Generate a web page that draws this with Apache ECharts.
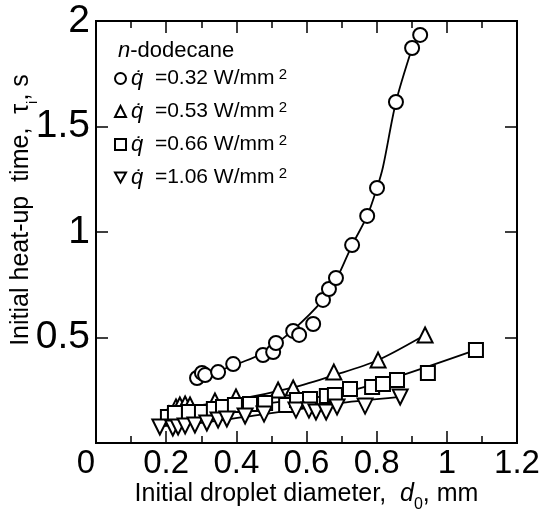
<!DOCTYPE html>
<html>
<head>
<meta charset="utf-8">
<script src="https://cdn.jsdelivr.net/npm/echarts@6/dist/echarts.min.js"></script>
<style>
  html, body { margin: 0; padding: 0; background: #fff; }
  #chart { width: 542px; height: 519px; }
</style>
</head>
<body>
<div id="chart"></div>
<script>
// heat flux cases (W/mm2)
const fluxNames = ['0.32', '0.53', '0.66', '1.06'];

// q = 0.32, circles
const d032 = [0.288, 0.302, 0.311, 0.348, 0.391, 0.476, 0.505, 0.513, 0.562, 0.579, 0.619, 0.647, 0.664, 0.684, 0.730, 0.773, 0.801, 0.855, 0.901, 0.924];
const t032 = [0.308, 0.332, 0.322, 0.336, 0.374, 0.417, 0.431, 0.474, 0.531, 0.512, 0.564, 0.678, 0.730, 0.782, 0.938, 1.076, 1.209, 1.616, 1.872, 1.934];
// q = 0.53, triangles
const d053 = [0.208, 0.228, 0.239, 0.254, 0.268, 0.339, 0.399, 0.519, 0.562, 0.678, 0.804, 0.938];
const t053 = [0.137, 0.171, 0.180, 0.185, 0.180, 0.199, 0.218, 0.251, 0.261, 0.336, 0.393, 0.512];
// q = 0.66, squares
const d066 = [0.205, 0.225, 0.265, 0.302, 0.336, 0.362, 0.396, 0.439, 0.482, 0.542, 0.573, 0.610, 0.658, 0.681, 0.724, 0.787, 0.818, 0.858, 0.946, 1.083];
const t066 = [0.123, 0.142, 0.147, 0.147, 0.161, 0.171, 0.180, 0.185, 0.190, 0.180, 0.204, 0.209, 0.223, 0.227, 0.256, 0.265, 0.280, 0.299, 0.332, 0.441];
// q = 1.06, inverted triangles
const d106 = [0.182, 0.219, 0.234, 0.254, 0.282, 0.316, 0.348, 0.373, 0.425, 0.479, 0.570, 0.607, 0.627, 0.656, 0.687, 0.767, 0.867];
const t106 = [0.076, 0.071, 0.076, 0.081, 0.085, 0.095, 0.109, 0.114, 0.128, 0.137, 0.156, 0.156, 0.147, 0.147, 0.171, 0.175, 0.218];

// fitted curves
const fit032d = [0.288, 0.348, 0.410, 0.476, 0.562, 0.647, 0.687, 0.730, 0.773, 0.801, 0.818, 0.855, 0.901];
const fit032t = [0.308, 0.341, 0.379, 0.427, 0.536, 0.678, 0.782, 0.938, 1.076, 1.209, 1.308, 1.616, 1.872];
const fit053d = [0.22, 0.40, 0.56, 0.68, 0.80, 0.925];
const fit053t = [0.16, 0.205, 0.262, 0.322, 0.39, 0.50];
const fit066d = [0.20, 0.40, 0.60, 0.72, 0.866, 1.075];
const fit066t = [0.13, 0.172, 0.21, 0.245, 0.318, 0.437];
const fit106d = [0.18, 0.30, 0.45, 0.60, 0.70, 0.86];
const fit106t = [0.078, 0.095, 0.13, 0.165, 0.19, 0.217];

const xTicks = [0, 0.2, 0.4, 0.6, 0.8, 1, 1.2];

const font = '"Liberation Sans", Arial, sans-serif';
const zip = (a, b) => a.map((v, i) => [v, b[i]]);

let chart = echarts.init(document.getElementById('chart'));

const markStyle = { color: '#fff', borderColor: '#000', borderWidth: 2, opacity: 1 };
const fitStyle = { color: '#000', width: 1.8 };
const invTri = 'path://M0,0 L10,0 L5,9 Z';
const frameLine = { show: true, onZero: false, lineStyle: { color: '#000', width: 2 } };
const majorTick = { show: true, inside: true, length: 12, lineStyle: { color: '#000', width: 1.5 } };
const minorTick = { show: true, splitNumber: 2, length: 7, lineStyle: { color: '#000', width: 1.5 } };

function scatter(name, d, t, symbol, size, rotate) {
    return {
        name: name,
        type: 'scatter',
        data: zip(d, t),
        symbol: symbol,
        symbolSize: size,
        symbolRotate: rotate || 0,
        itemStyle: markStyle,
        z: 5
    };
}
function fit(d, t, axisIdx) {
    return {
        type: 'line',
        data: zip(d, t),
        xAxisIndex: axisIdx || 0,
        yAxisIndex: axisIdx || 0,
        smooth: 0.3,
        showSymbol: false,
        symbol: 'none',
        lineStyle: fitStyle,
        silent: true,
        z: 2
    };
}

let option = {
    animation: false,
    backgroundColor: '#fff',
    grid: {
        left: 96, right: 25, top: 21, bottom: 76,
        containLabel: false, outerBoundsMode: 'none',
        show: true, borderColor: '#000', borderWidth: 2, backgroundColor: 'transparent'
    },
    title: {
        text: '{i|n}-dodecane',
        left: 113,
        top: 35,
        textStyle: {
            fontFamily: font, fontSize: 22, fontWeight: 'normal', color: '#000',
            rich: { i: { fontFamily: font, fontSize: 22, fontStyle: 'italic', color: '#000' } }
        }
    },
    legend: {
        orient: 'vertical',
        left: 109,
        top: 62,
        itemWidth: 11,
        itemHeight: 11,
        itemGap: 8,
        data: [
            { name: fluxNames[0], icon: 'circle' },
            { name: fluxNames[1], icon: 'triangle' },
            { name: fluxNames[2], icon: 'rect' },
            { name: fluxNames[3], icon: invTri }
        ],
        itemStyle: { color: '#fff', borderColor: '#000', borderWidth: 2, opacity: 1 },
        formatter: name => '{q|q\u0307}  =' + name + ' W/mm{sup| 2}',
        textStyle: {
            fontFamily: font, fontSize: 21, color: '#000', lineHeight: 23,
            rich: {
                q: { fontFamily: font, fontSize: 22, fontStyle: 'italic', color: '#000', lineHeight: 23 },
                sup: { fontFamily: font, fontSize: 15, color: '#000', lineHeight: 23, verticalAlign: 'top', padding: [0, 0, 10, 0] }
            }
        }
    },
    xAxis: [{
        type: 'value',
        min: 0, max: 1.2, interval: 0.2,
        name: '{a|Initial droplet diameter,  }{i|d}{s|0}{a|, mm}',
        nameLocation: 'middle',
        nameGap: 39,
        nameMoveOverlap: false,
        nameTextStyle: {
            rich: {
                a: { fontFamily: font, fontSize: 25, color: '#000' },
                i: { fontFamily: font, fontSize: 25, fontStyle: 'italic', color: '#000' },
                s: { fontFamily: font, fontSize: 16, color: '#000', verticalAlign: 'bottom', padding: [0, 0, -6, 0] }
            }
        },
        axisLine: frameLine,
        axisTick: majorTick,
        minorTick: minorTick,
        splitLine: { show: false },
        axisLabel: {
            fontFamily: font, fontSize: 33, color: '#000', margin: 4,
            formatter: v => v === 0 ? '{z|0}' : String(xTicks[Math.round(v / 0.2)]),
            rich: { z: { fontFamily: font, fontSize: 33, color: '#000', padding: [0, 20, 0, 0] } }
        }
    }, {
        type: 'value',
        position: 'top',
        min: 0, max: 1.2, interval: 0.2,
        axisLine: frameLine,
        axisTick: majorTick,
        minorTick: minorTick,
        axisLabel: { show: false },
        splitLine: { show: false }
    }],
    yAxis: [{
        type: 'value',
        min: 0, max: 2, interval: 0.5,
        name: '{a|Initial heat-up  time,  τ}{s|i}{a|, s}',
        nameLocation: 'middle',
        nameGap: 62,
        nameRotate: 90,
        nameMoveOverlap: false,
        nameTextStyle: {
            padding: [0, 0, 0, 44],
            rich: {
                a: { fontFamily: font, fontSize: 25, color: '#000' },
                s: { fontFamily: font, fontSize: 15, color: '#000', verticalAlign: 'bottom', padding: [0, 0, -6, 0] }
            }
        },
        axisLine: frameLine,
        axisTick: majorTick,
        splitLine: { show: false },
        axisLabel: {
            fontFamily: font, fontSize: 39, color: '#000', margin: 6,
            showMinLabel: false
        }
    }, {
        type: 'value',
        position: 'right',
        min: 0, max: 2, interval: 0.5,
        axisLine: frameLine,
        axisTick: majorTick,
        axisLabel: { show: false },
        splitLine: { show: false }
    }],
    series: [
        fit(fit032d, fit032t),
        fit(fit053d, fit053t),
        fit(fit066d, fit066t),
        fit(fit106d, fit106t, 1),
        scatter(fluxNames[0], d032, t032, 'circle', 14),
        scatter(fluxNames[1], d053, t053, 'triangle', 15),
        scatter(fluxNames[2], d066, t066, 'rect', 14),
        scatter(fluxNames[3], d106, t106, 'triangle', 15, 180)
    ]
};
chart.setOption(option);
</script>
</body>
</html>
